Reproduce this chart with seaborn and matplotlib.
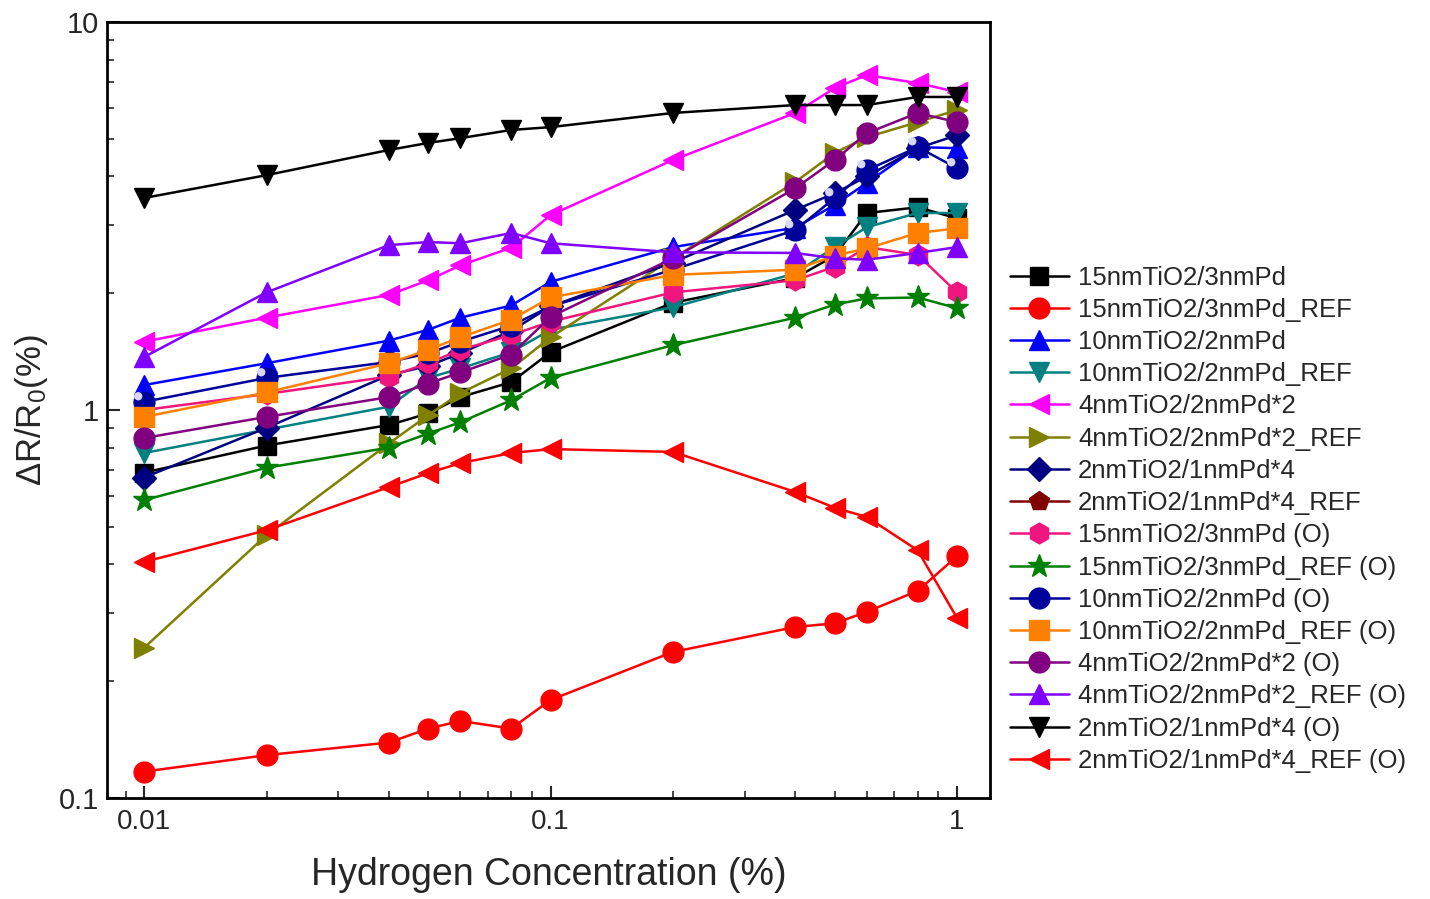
import matplotlib
matplotlib.use("Agg")
import matplotlib.pyplot as plt
import matplotlib.ticker as mticker
from matplotlib.path import Path
import numpy as np
import pandas as pd
import seaborn as sns

# Hydrogen concentration (%)
conc = [0.01, 0.02, 0.04, 0.05, 0.06, 0.08, 0.1, 0.2, 0.4, 0.5, 0.6, 0.8, 1.0]

# Relative resistance change dR/R0 (%) for each film stack
tio2_15_pd3 = [0.69, 0.81, 0.915, 0.98, 1.08, 1.18, 1.41, 1.89, 2.19, 2.5, 3.22, 3.33, 3.12]
tio2_15_pd3_ref = [0.117, 0.129, 0.139, 0.151, 0.158, 0.151, 0.179, 0.238, 0.276, 0.282, 0.302, 0.342, 0.42]
tio2_10_pd2 = [1.16, 1.32, 1.51, 1.61, 1.73, 1.86, 2.14, 2.63, 2.95, 3.38, 3.85, 4.76, 4.73]
tio2_10_pd2_ref = [0.775, 0.89, 1.02, 1.21, 1.28, 1.41, 1.61, 1.84, 2.25, 2.63, 2.96, 3.22, 3.22]
tio2_4_pd2x2 = [1.50, 1.73, 1.98, 2.16, 2.36, 2.62, 3.18, 4.41, 5.83, 6.76, 7.3, 6.96, 6.6]
tio2_4_pd2x2_ref = [0.244, 0.476, 0.82, 0.97, 1.106, 1.28, 1.54, 2.46, 3.87, 4.6, 5.05, 5.52, 5.93]
tio2_2_pd1x4 = [0.67, 0.90, 1.23, 1.3, 1.4, 1.6, 1.85, 2.4, 3.28, 3.62, 4.0, 4.73, 5.11]
tio2_2_pd1x4_ref = []
tio2_15_pd3_o = [1.0, 1.1, 1.22, 1.32, 1.43, 1.56, 1.69, 2.01, 2.16, 2.34, 2.63, 2.51, 2.01]
tio2_15_pd3_ref_o = [0.586, 0.71, 0.80, 0.87, 0.93, 1.06, 1.21, 1.47, 1.73, 1.87, 1.94, 1.95, 1.83]
tio2_10_pd2_o = [1.05, 1.21, 1.33, 1.4, 1.5, 1.65, 1.85, 2.3, 2.91, 3.52, 4.15, 4.76, 4.2]
tio2_10_pd2_ref_o = [0.96, 1.11, 1.32, 1.43, 1.54, 1.71, 1.95, 2.23, 2.30, 2.5, 2.61, 2.86, 2.94]
tio2_4_pd2x2_o = [0.847, 0.96, 1.08, 1.17, 1.25, 1.39, 1.74, 2.46, 3.73, 4.41, 5.17, 5.83, 5.52]
tio2_4_pd2x2_ref_o = [1.37, 2.01, 2.66, 2.71, 2.69, 2.86, 2.69, 2.55, 2.54, 2.46, 2.44, 2.54, 2.63]
tio2_2_pd1x4_o = [3.52, 4.03, 4.68, 4.88, 5.02, 5.27, 5.36, 5.83, 6.11, 6.11, 6.11, 6.41, 6.41]
tio2_2_pd1x4_ref_o = [0.406, 0.49, 0.633, 0.688, 0.73, 0.775, 0.793, 0.78, 0.615, 0.56, 0.53, 0.435, 0.291]

labels = [
    "15nmTiO2/3nmPd", "15nmTiO2/3nmPd_REF", "10nmTiO2/2nmPd", "10nmTiO2/2nmPd_REF",
    "4nmTiO2/2nmPd*2", "4nmTiO2/2nmPd*2_REF", "2nmTiO2/1nmPd*4", "2nmTiO2/1nmPd*4_REF",
    "15nmTiO2/3nmPd (O)", "15nmTiO2/3nmPd_REF (O)", "10nmTiO2/2nmPd (O)",
    "10nmTiO2/2nmPd_REF (O)", "4nmTiO2/2nmPd*2 (O)", "4nmTiO2/2nmPd*2_REF (O)",
    "2nmTiO2/1nmPd*4 (O)", "2nmTiO2/1nmPd*4_REF (O)",
]
values = [
    tio2_15_pd3, tio2_15_pd3_ref, tio2_10_pd2, tio2_10_pd2_ref,
    tio2_4_pd2x2, tio2_4_pd2x2_ref, tio2_2_pd1x4, tio2_2_pd1x4_ref,
    tio2_15_pd3_o, tio2_15_pd3_ref_o, tio2_10_pd2_o, tio2_10_pd2_ref_o,
    tio2_4_pd2x2_o, tio2_4_pd2x2_ref_o, tio2_2_pd1x4_o, tio2_2_pd1x4_ref_o,
]
colors = [
    "#000000", "#FF0000", "#0000FF", "#008080", "#FF00FF", "#808000", "#000080", "#800000",
    "#F0157F", "#007F00", "#00009A", "#FF8000", "#800080", "#8000FF", "#000000", "#FF0000",
]
markers = ["s", "o", "^", "v", "<", ">", "D", "p", "h", "*", "o", "s", "o", "^", "v", "<"]
sizes = [13, 15, 15, 15, 15, 15, 12, 15, 15, 17, 15, 14, 15, 15, 15, 15]

# small off-centre disc used as a glossy highlight on the sphere markers
glint = Path.circle(center=(-0.3, 0.3), radius=0.2)
glint = Path(np.vstack([glint.vertices, [[0.5, -0.5]]]),
             np.concatenate([glint.codes, [Path.MOVETO]]))

sns.set_style("white")
plt.rcParams["font.family"] = ["Liberation Sans", "DejaVu Sans"]
plt.rcParams["mathtext.fontset"] = "custom"
plt.rcParams["mathtext.rm"] = "Liberation Sans"
plt.rcParams["mathtext.it"] = "Liberation Sans"

fig = plt.figure(figsize=(14.3, 8.99), dpi=100)
ax = fig.add_axes([0.0748, 0.1123, 0.6175, 0.8632])

for lab, vals, col, mk, ms in zip(labels, values, colors, markers, sizes):
    df = pd.DataFrame({"conc": conc[:len(vals)], "dr": vals})
    sns.lineplot(data=df, x="conc", y="dr", ax=ax, color=col, marker=mk,
                 markersize=ms, markeredgecolor=col, markeredgewidth=1,
                 linewidth=1.8, label=lab, sort=False, estimator=None)
    if lab == "10nmTiO2/2nmPd (O)":
        ax.plot(df["conc"], df["dr"], linestyle="none", marker=glint,
                markersize=ms, markerfacecolor="#D8D8F4", markeredgecolor="none")

ax.set_xscale("log")
ax.set_yscale("log")
ax.set_xlim(0.0081, 1.205)
ax.set_ylim(0.1, 10)

ax.xaxis.set_major_locator(mticker.FixedLocator([0.01, 0.1, 1]))
ax.xaxis.set_major_formatter(mticker.FixedFormatter(["0.01", "0.1", "1"]))
ax.xaxis.set_minor_locator(mticker.LogLocator(base=10, subs=np.arange(2, 10)))
ax.xaxis.set_minor_formatter(mticker.NullFormatter())
ax.yaxis.set_major_locator(mticker.FixedLocator([0.1, 1, 10]))
ax.yaxis.set_major_formatter(mticker.FixedFormatter(["0.1", "1", "10"]))
ax.yaxis.set_minor_locator(mticker.LogLocator(base=10, subs=np.arange(2, 10)))
ax.yaxis.set_minor_formatter(mticker.NullFormatter())

ax.tick_params(axis="both", which="major", direction="in", length=9, width=1.5,
               top=False, right=False, bottom=True, left=True)
ax.tick_params(axis="both", which="minor", direction="in", length=5, width=1.2,
               top=False, right=False, bottom=True, left=True)
ax.tick_params(axis="x", which="major", labelsize=20, pad=8)
ax.tick_params(axis="y", which="major", labelsize=21, pad=6)
for sp in ax.spines.values():
    sp.set_linewidth(2)
    sp.set_color("black")

ax.set_xlabel("Hydrogen Concentration (%)", fontsize=27, labelpad=16)
ax.set_ylabel(r"$\Delta$R/R$_0$(%)", fontsize=25, labelpad=6)

handles, labs = ax.get_legend_handles_labels()
ax.legend_.remove()
fig.legend(handles, labs, loc="upper left", bbox_to_anchor=(0.699, 0.716),
           frameon=False, fontsize=18.5, labelspacing=0.32, handlelength=2.3,
           handletextpad=0.35, borderaxespad=0)

fig.savefig("out.png", dpi=100)
